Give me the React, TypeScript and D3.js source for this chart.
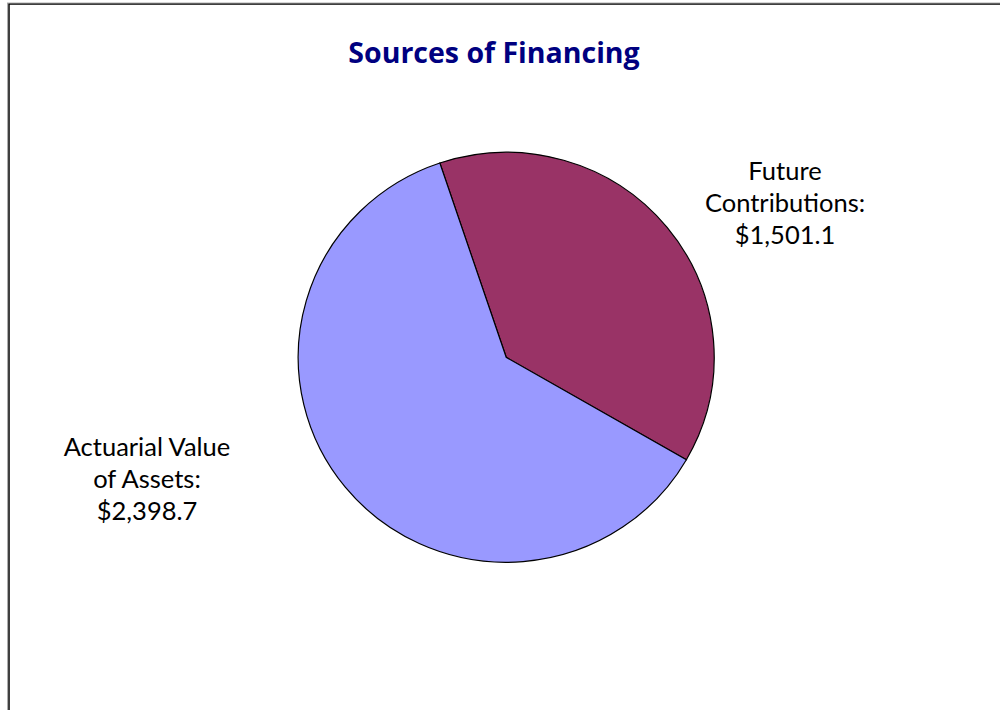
import React from "react";
import * as d3 from "d3";

const title = "Sources of Financing";
const categories = ["Future Contributions", "Actuarial Value of Assets"];
const values = [1501.1, 2398.7];
const colors = ["#993366", "#9999FF"];
const labelLines = [
  ["Future", "Contributions:", "$1,501.1"],
  ["Actuarial Value", "of Assets:", "$2,398.7"],
];

const W = 1000;
const H = 710;
const cx = 506.2;
const cy = 357.3;
const rx = 208;
const ry = 205;
const startDeg = -18.6;
const labelPos = [
  { x: 785, y: 180 },
  { x: 147, y: 456 },
];
const lineH = 32;

export default function App() {
  const pie = d3
    .pie<number>()
    .sort(null)
    .value((d) => d)
    .startAngle((startDeg * Math.PI) / 180)
    .endAngle((startDeg * Math.PI) / 180 + 2 * Math.PI);
  const arcs = pie(values);
  const arc = d3.arc<d3.PieArcDatum<number>>().innerRadius(0).outerRadius(rx);
  const fmt = d3.format(",.1f");

  return (
    <svg
      width={W}
      height={H}
      style={{ position: "absolute", left: 0, top: 0, background: "#fff" }}
    >
      <rect x={9} y={4} width={1100} height={800} fill="#fff" stroke="#000" strokeWidth={1.5} />
      <rect x={7.5} y={3} width={1100} height={800} fill="none" stroke="#999" strokeWidth={0.8} />
      <text
        x={494}
        y={63}
        textAnchor="middle"
        fontFamily="'Open Sans', Lato, sans-serif"
        fontWeight="bold"
        fontSize={28.5}
        fill="#000080"
      >
        {title}
      </text>
      <g transform={`translate(${cx},${cy}) scale(1,${ry / rx})`}>
        {arcs.map((a, i) => (
          <path
            key={categories[i]}
            d={arc(a) || ""}
            fill={colors[i]}
            stroke="#000"
            strokeWidth={1.2}
            vectorEffect="non-scaling-stroke"
          />
        ))}
      </g>
      {labelLines.map((lines, i) => (
        <text
          key={categories[i]}
          textAnchor="middle"
          fontFamily="Lato, 'Open Sans', sans-serif"
          fontSize={25.5}
          fill="#000"
          data-value={fmt(values[i])}
        >
          {lines.map((l, j) => (
            <tspan key={j} x={labelPos[i].x} y={labelPos[i].y + j * lineH}>
              {l}
            </tspan>
          ))}
        </text>
      ))}
    </svg>
  );
}
